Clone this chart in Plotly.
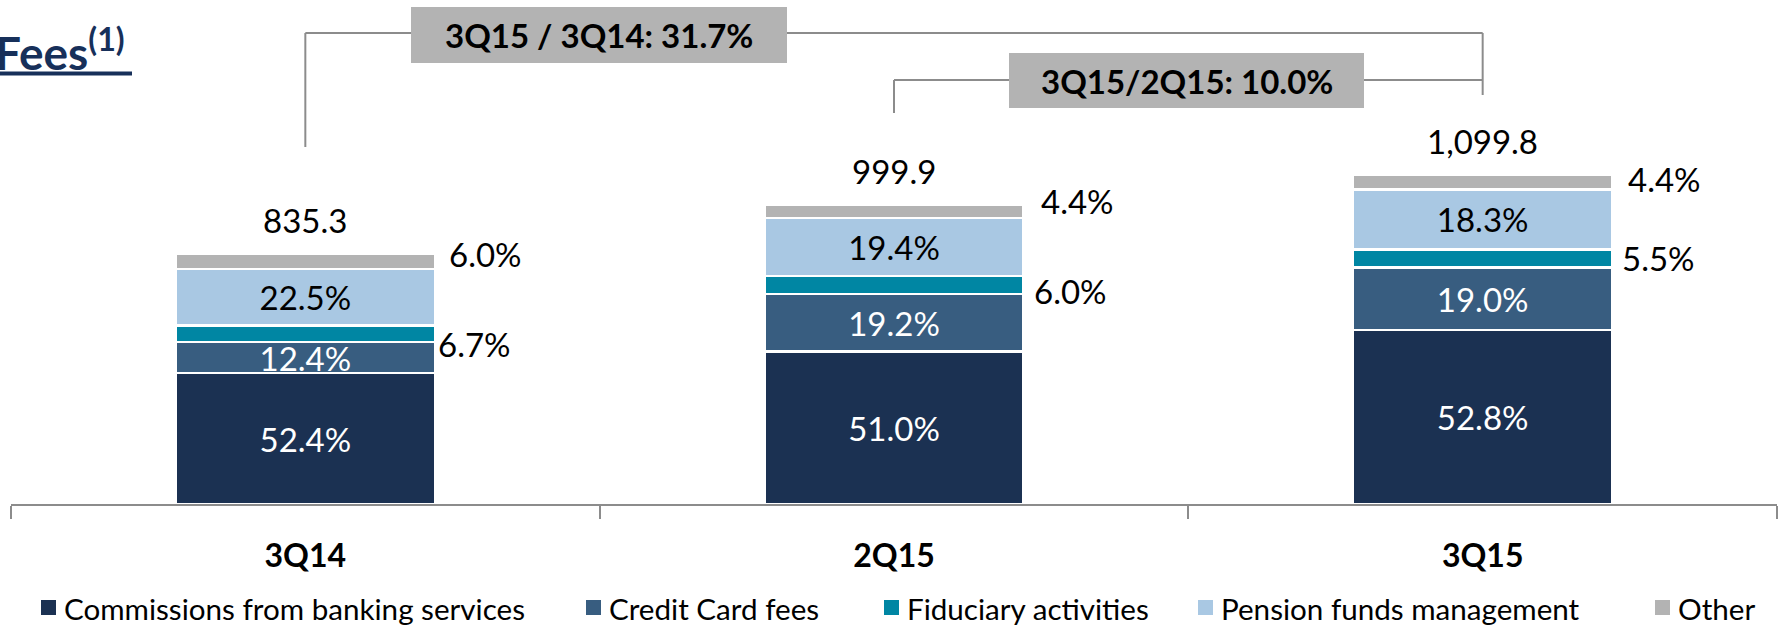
import plotly.graph_objects as go

# ---------------- data ----------------
categories = ["3Q14", "2Q15", "3Q15"]
totals = [835.3, 999.9, 1099.8]
total_labels = ["835.3", "999.9", "1,099.8"]
series_names = ["Commissions from banking services", "Credit Card fees",
                "Fiduciary activities", "Pension funds management", "Other"]
commissions_pct = [52.4, 51.0, 52.8]
credit_card_pct = [12.4, 19.2, 19.0]
fiduciary_pct = [6.7, 6.0, 5.5]
pension_pct = [22.5, 19.4, 18.3]
other_pct = [6.0, 4.4, 4.4]
growth_labels = ["3Q15 / 3Q14: 31.7%", "3Q15/2Q15: 10.0%"]

series_pct = [commissions_pct, credit_card_pct, fiduciary_pct, pension_pct, other_pct]

# ---------------- style ----------------
colors = ["#1b3152", "#385d80", "#0086a3", "#a9c8e3", "#b3b3b3"]
inside_text = [True, True, False, True, False]
inside_text_color = ["white", "white", None, "black", None]
FONT = "Lato"
W, H = 1783, 625
ML, MR, MB, MT = 11, 6, 121, 0
PLOT_W = W - ML - MR
PLOT_H = H - MB - MT
px_per_unit = 250 / 835.3
YMAX = PLOT_H / px_per_unit
GRAY = "#8c8c8c"


def px(xp):
    return (xp - ML) / PLOT_W


def py(yp):
    return (H - MB - yp) / PLOT_H


fig = go.Figure()
for i, name in enumerate(series_names):
    vals = [t * p / 100 for t, p in zip(totals, series_pct[i])]
    fig.add_trace(go.Bar(
        x=categories, y=vals, name=name,
        marker=dict(color=colors[i], line=dict(color="white", width=2.5)),
        text=[f"{p:.1f}%" for p in series_pct[i]] if inside_text[i] else None,
        textposition="inside" if inside_text[i] else "none",
        insidetextanchor="middle", textangle=0,
        textfont=dict(family=FONT, size=33, color=inside_text_color[i] or "black"),
        showlegend=False, hoverinfo="skip",
    ))

annotations = []
# totals above bars
for j, c in enumerate(categories):
    annotations.append(dict(x=c, y=totals[j], text=total_labels[j], showarrow=False,
                            yanchor="middle", yshift=34,
                            font=dict(family=FONT, size=33, color="black")))

# outside labels for small segments (fiduciary & other)
label_offsets = {2: [(1, -10), (8, -6), (8, 1)], 4: [(12, 8), (15, 10), (14, 3)]}
for si, offs in label_offsets.items():
    for j, c in enumerate(categories):
        base = sum(totals[j] * series_pct[k][j] / 100 for k in range(si))
        mid = base + totals[j] * series_pct[si][j] / 100 / 2
        annotations.append(dict(x=j + 0.22, y=mid, xref="x", yref="y",
                                text=f"{series_pct[si][j]:.1f}%", showarrow=False,
                                xanchor="left", yanchor="middle",
                                xshift=offs[j][0], yshift=offs[j][1],
                                font=dict(family=FONT, size=33, color="black")))

shapes = []
# growth brackets
line = dict(color=GRAY, width=2)
shapes += [
    dict(type="line", xref="x", yref="paper", x0=0, x1=0, y0=py(147), y1=py(33), line=line),
    dict(type="line", xref="x", yref="paper", x0=0, x1=2, y0=py(33), y1=py(33), line=line),
    dict(type="line", xref="x", yref="paper", x0=2, x1=2, y0=py(33), y1=py(95), line=line),
    dict(type="line", xref="x", yref="paper", x0=1, x1=1, y0=py(113), y1=py(80), line=line),
    dict(type="line", xref="x", yref="paper", x0=1, x1=2, y0=py(80), y1=py(80), line=line),
]
boxes = [(411, 787, 7, 63), (1009, 1364, 53, 108)]
for (x0, x1, y0, y1), lab in zip(boxes, growth_labels):
    shapes.append(dict(type="rect", xref="paper", yref="paper", x0=px(x0), x1=px(x1),
                       y0=py(y1), y1=py(y0), fillcolor="#b3b3b3", line=dict(width=0)))
    annotations.append(dict(xref="paper", yref="paper", x=px((x0 + x1) / 2), y=py((y0 + y1) / 2),
                            text=f"<b>{lab}</b>", showarrow=False, xanchor="center", yanchor="middle",
                            font=dict(family=FONT, size=33, color="black")))

# title
annotations.append(dict(xref="paper", yref="paper", x=px(-7), y=py(50), xanchor="left", yanchor="middle",
                        text="<b>Fees<sup>(1)</sup></b>", showarrow=False,
                        font=dict(family=FONT, size=46, color="#17305a")))
shapes.append(dict(type="line", xref="paper", yref="paper", x0=px(0), x1=px(132), y0=py(73.5), y1=py(73.5),
                   line=dict(color="#17305a", width=4)))

# legend (manual)
legend_x = [41, 586, 884, 1198, 1655]
for name, col, lx in zip(series_names, colors, legend_x):
    shapes.append(dict(type="rect", xref="paper", yref="paper", x0=px(lx), x1=px(lx + 15),
                       y0=py(615), y1=py(600), fillcolor=col, line=dict(width=0)))
    annotations.append(dict(xref="paper", yref="paper", x=px(lx + 21), y=py(608), xanchor="left",
                            yanchor="middle", text=name, showarrow=False,
                            font=dict(family=FONT, size=29.6, color="black")))

fig.update_layout(
    width=W, height=H, barmode="stack", bargap=0.56,
    margin=dict(l=ML, r=MR, t=MT, b=MB),
    paper_bgcolor="white", plot_bgcolor="white",
    uniformtext=dict(minsize=33, mode="show"),
    xaxis=dict(showline=True, linecolor=GRAY, linewidth=2, ticks="outside", tickson="boundaries",
               ticklen=13, tickwidth=2, tickcolor=GRAY, showgrid=False, range=[-0.5, 2.5],
               tickfont=dict(family=FONT, size=32, color="black", weight="bold"),
               ticklabelstandoff=23),
    yaxis=dict(visible=False, range=[0, YMAX], showgrid=False),
    annotations=annotations, shapes=shapes,
)
fig.write_html("out.html", config={"displayModeBar": False},
               post_script="document.body.style.margin='0';document.body.style.overflow='hidden';")
